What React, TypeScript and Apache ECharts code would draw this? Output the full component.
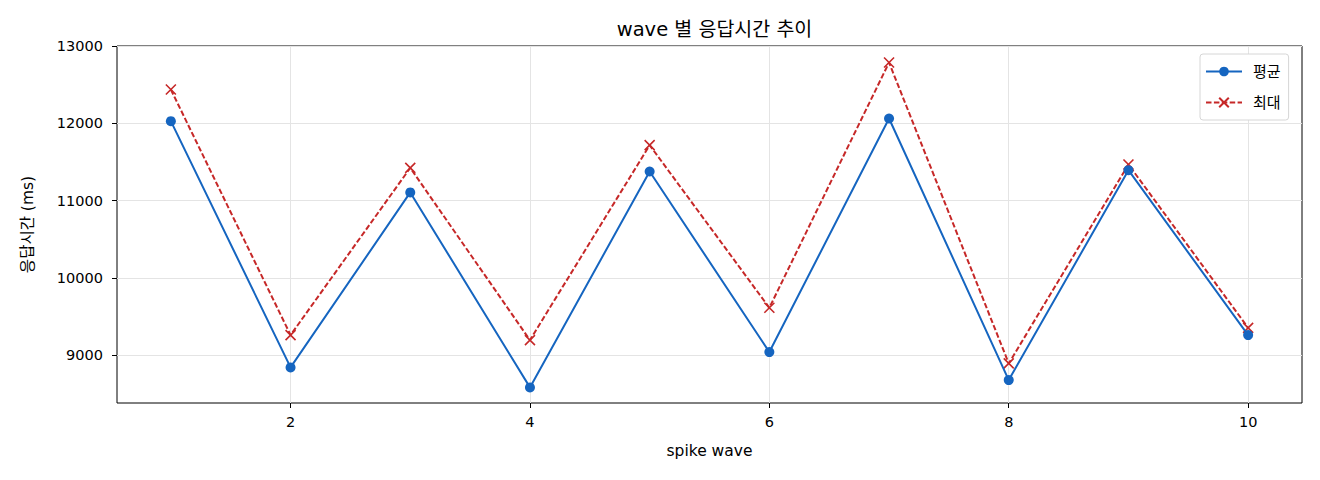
import React, { useEffect, useRef } from "react";
import * as echarts from "echarts";

const waves = [1, 2, 3, 4, 5, 6, 7, 8, 9, 10];
const avgMs = [12027, 8841, 11105, 8582, 11376, 9039, 12062, 8677, 11393, 9259];
const maxMs = [12437, 9259, 11423, 9194, 11717, 9612, 12786, 8892, 11467, 9353];
const xTicks = [2, 4, 6, 8, 10];
const yTicks = [9000, 10000, 11000, 12000, 13000];

const FONT = "'DejaVu Sans', 'Noto Sans CJK KR', sans-serif";
const BLUE = "#1565C0";
const RED = "#C62828";

export default function App() {
  const ref = useRef<HTMLDivElement>(null);
  useEffect(() => {
    if (!ref.current) return;
    const chart = echarts.init(ref.current, undefined, { renderer: "svg" });
    chart.setOption({
      animation: false,
      backgroundColor: "#ffffff",
      textStyle: { fontFamily: FONT },
      title: {
        text: "wave 별 응답시간 추이",
        left: 709.5,
        top: 15,
        textAlign: "center",
        textStyle: { fontFamily: FONT, fontSize: 19.5, fontWeight: "normal", color: "#000" },
      },
      grid: {
        left: 117,
        right: 18,
        top: 46,
        bottom: 77,
        show: true,
        borderColor: "#000",
        borderWidth: 1,
        backgroundColor: "transparent",
      },
      legend: {
        left: 1200,
        top: 54,
        orient: "vertical",
        itemWidth: 36,
        itemHeight: 12,
        itemGap: 16,
        padding: [10, 8, 10, 5],
        backgroundColor: "#fff",
        borderColor: "#d6d6d6",
        borderWidth: 1,
        borderRadius: 3,
        textStyle: { fontFamily: FONT, fontSize: 15, color: "#000", padding: [0, 0, 0, 6] },
        data: ["평균", "최대"],
      },
      xAxis: {
        type: "value",
        min: 0.55,
        max: 10.45,
        name: "spike wave",
        nameLocation: "middle",
        nameGap: 40,
        nameTextStyle: { fontFamily: FONT, fontSize: 15.5, color: "#000" },
        axisLine: { show: false },
        axisTick: { show: true, length: 5, lineStyle: { color: "#000", width: 1 }, customValues: xTicks },
        axisLabel: { fontFamily: FONT, fontSize: 14.5, color: "#000", margin: 12, customValues: xTicks },
        splitLine: { show: true, lineStyle: { color: "#e4e4e4", width: 1 } },
      },
      yAxis: {
        type: "value",
        min: 8380,
        max: 13000,
        name: "응답시간 (ms)",
        nameLocation: "middle",
        nameGap: 81,
        nameTextStyle: { fontFamily: FONT, fontSize: 15.5, color: "#000" },
        axisLine: { show: false },
        axisTick: { show: true, length: 5, lineStyle: { color: "#000", width: 1 }, customValues: yTicks },
        axisLabel: {
          fontFamily: FONT,
          fontSize: 14.5,
          color: "#000",
          margin: 14,
          customValues: yTicks,
          formatter: (v: number) => String(Math.round(v)),
        },
        splitLine: { show: true, lineStyle: { color: "#e4e4e4", width: 1 } },
      },
      series: [
        {
          name: "평균",
          type: "line",
          data: waves.map((w, i) => [w, avgMs[i]]),
          symbol: "circle",
          symbolSize: 10,
          showSymbol: true,
          lineStyle: { color: BLUE, width: 2 },
          itemStyle: { color: BLUE },
          z: 3,
        },
        {
          name: "최대",
          type: "line",
          data: waves.map((w, i) => [w, maxMs[i]]),
          symbol: "path://M0,0L10,10M10,0L0,10",
          symbolSize: 10,
          showSymbol: true,
          lineStyle: { color: RED, width: 2, type: [5.5, 2.4] },
          itemStyle: { color: RED, borderColor: RED, borderWidth: 1.6 },
          z: 2,
        },
      ],
    });
    return () => chart.dispose();
  }, []);
  return (
    <div
      ref={ref}
      style={{ position: "fixed", left: 0, top: 0, width: 1320, height: 480 }}
    />
  );
}
